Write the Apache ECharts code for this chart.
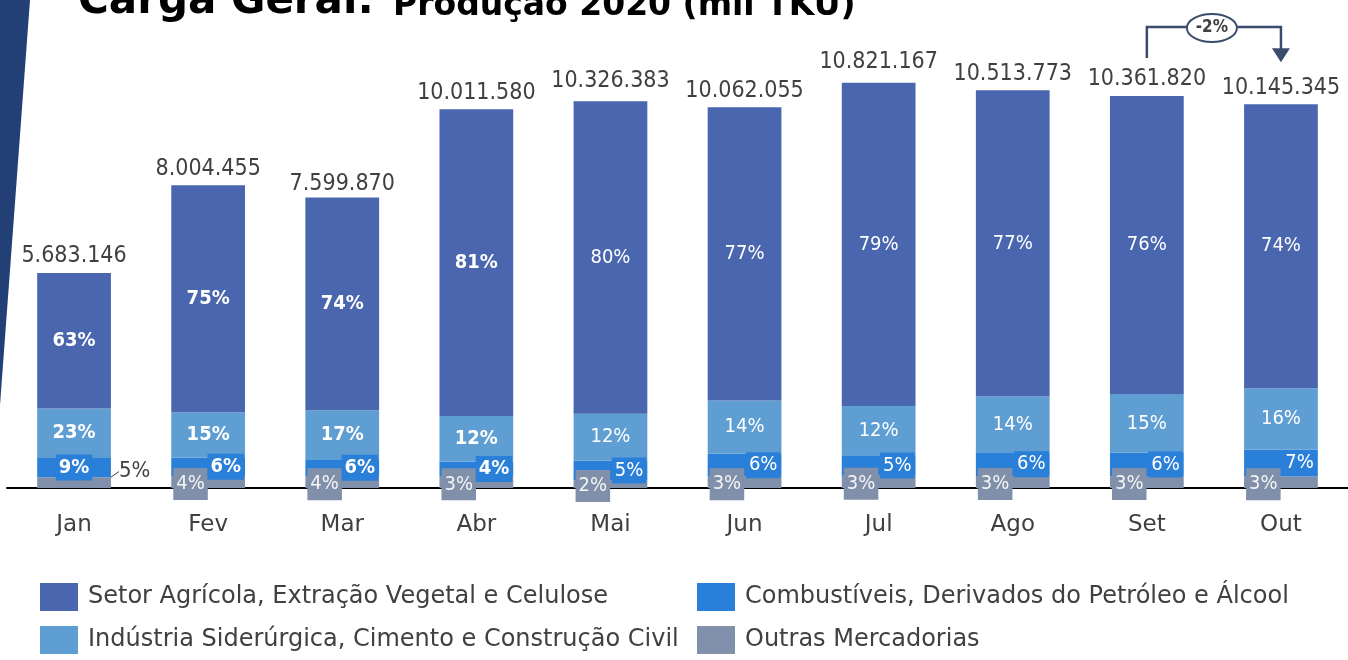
<!DOCTYPE html>
<html>
<head>
<meta charset="utf-8">
<script src="https://cdn.jsdelivr.net/npm/echarts@6/dist/echarts.min.js"></script>
<style>
  html, body { margin: 0; padding: 0; background: #fff; }
  #main { width: 1348px; height: 660px; }
</style>
</head>
<body>
<div id="main"></div>
<script>
// meses
var months = ['Jan', 'Fev', 'Mar', 'Abr', 'Mai', 'Jun', 'Jul', 'Ago', 'Set', 'Out'];
// producao total (mil TKU)
var totals = [5683146, 8004455, 7599870, 10011580, 10326383, 10062055, 10821167, 10513773, 10361820, 10145345];
// participacao de cada grupo (%)
var pctAgricola = [63, 75, 74, 81, 80, 77, 79, 77, 76, 74];
var pctIndustria = [23, 15, 17, 12, 12, 14, 12, 14, 15, 16];
var pctCombust = [9, 6, 6, 4, 5, 6, 5, 6, 6, 7];
var pctOutras = [5, 4, 4, 3, 2, 3, 3, 3, 3, 3];
var variacao = '-2%';

var names = ['Setor Agrícola, Extração Vegetal e Celulose', 'Indústria Siderúrgica, Cimento e Construção Civil',
  'Combustíveis, Derivados do Petróleo e Álcool', 'Outras Mercadorias'];
var cores = ['#4a66ae', '#5f9ed2', '#2a7fd8', '#8190aa'];

var FONT = "'DejaVu Sans Condensed', Roboto, sans-serif";
var FONT_W = "'DejaVu Sans', sans-serif";
var TXT = '#404040';

function fmt(n) {
  return String(n).replace(/\B(?=(\d{3})+(?!\d))/g, '.');
}

// valor de cada segmento = total * participacao
function segment(pct, labelFn) {
  return totals.map(function (t, i) {
    var item = { value: t * pct[i] / 100 };
    if (labelFn) item.label = labelFn(i);
    return item;
  });
}
function pctFormatter(pct) {
  return function (p) { return pct[p.dataIndex] + '%'; };
}
function bold(i) { return { fontWeight: i < 4 ? 'bold' : 'normal' }; }

// uma legenda por item, em 2 colunas
function legendItem(name, left, top) {
  return {
    data: [name], left: left, top: top, orient: 'horizontal', padding: 0,
    itemWidth: 38, itemHeight: 28, icon: 'rect', selectedMode: false,
    textStyle: { color: TXT, fontSize: 24, fontFamily: FONT_W, padding: [0, 0, 0, 5] }
  };
}

var option = {
  animation: false,
  grid: { left: 7, right: -5, top: 34, bottom: 172 },
  xAxis: {
    type: 'category',
    data: months,
    axisTick: { show: false },
    axisLine: { lineStyle: { color: '#000', width: 2 } },
    axisLabel: { color: TXT, fontSize: 23, fontFamily: FONT_W, margin: 26 }
  },
  yAxis: { type: 'value', min: 0, max: 12000000, show: false, splitLine: { show: false } },
  legend: [
    legendItem(names[0], 40, 583),
    legendItem(names[1], 40, 626),
    legendItem(names[2], 697, 583),
    legendItem(names[3], 697, 626)
  ],
  series: [
    {
      name: names[3], type: 'bar', stack: 'a', barWidth: '55%', barGap: '-100%',
      itemStyle: { color: cores[3] },
      data: segment(pctOutras, function (i) {
        if (i === 0) {
          return { position: 'right', offset: [6, -11], color: TXT, backgroundColor: 'transparent', padding: 0, fontSize: 22 };
        }
        return {};
      }),
      label: {
        show: true, position: 'insideLeft', distance: 2, offset: [0, 2],
        formatter: pctFormatter(pctOutras), color: '#f4f4f4', fontSize: 20, fontFamily: FONT,
        backgroundColor: cores[3], padding: [6, 3, 6, 3]
      },
      labelLine: { show: true, lineStyle: { color: TXT, width: 1 } }
    },
    {
      name: names[2], type: 'bar', stack: 'a', barWidth: '55%', barGap: '-100%',
      itemStyle: { color: cores[2] },
      data: segment(pctCombust, function (i) {
        var l = bold(i);
        if (i === 0) l.position = 'inside';
        return l;
      }),
      label: {
        show: true, position: 'insideRight', distance: 1,
        formatter: pctFormatter(pctCombust), color: '#fff', fontSize: 20, fontFamily: FONT,
        backgroundColor: cores[2], padding: [4, 3, 2, 3]
      }
    },
    {
      name: names[1], type: 'bar', stack: 'a', barWidth: '55%', barGap: '-100%',
      itemStyle: { color: cores[1] },
      data: segment(pctIndustria, bold),
      label: {
        show: true, position: 'inside', formatter: pctFormatter(pctIndustria),
        color: '#fff', fontSize: 20, fontFamily: FONT
      }
    },
    {
      name: names[0], type: 'bar', stack: 'a', barWidth: '55%', barGap: '-100%',
      itemStyle: { color: cores[0] },
      data: segment(pctAgricola, bold),
      label: {
        show: true, position: 'inside', formatter: pctFormatter(pctAgricola),
        color: '#fff', fontSize: 20, fontFamily: FONT
      }
    },
    {
      name: 'Total', type: 'bar', barWidth: '55%', barGap: '-100%', z: 1, silent: true,
      data: totals,
      itemStyle: { color: 'transparent' },
      label: {
        show: true, position: 'top', distance: 5, color: TXT, fontSize: 23, fontFamily: FONT,
        formatter: function (p) { return fmt(p.value); }
      }
    }
  ],
  graphic: [
    {
      type: 'polygon', silent: true,
      shape: { points: [[0, 0], [30, 0], [0, 405]] },
      style: { fill: '#223f76' }
    },
    {
      type: 'text', left: 78, top: -19,
      style: { text: 'Carga Geral:', font: "bold 42px 'DejaVu Sans', sans-serif", fill: '#000' }
    },
    {
      type: 'text', left: 393, top: -10,
      style: { text: 'Produção 2020 (mil TKU)', font: "bold 33px 'DejaVu Sans', sans-serif", fill: '#000' }
    }
  ]
};

var chart = echarts.init(document.getElementById('main'));
chart.setOption(option);

// seta de variacao Set -> Out
var xSet = chart.convertToPixel({ xAxisIndex: 0 }, 8);
var xOut = chart.convertToPixel({ xAxisIndex: 0 }, 9);
var ySet = chart.convertToPixel({ yAxisIndex: 0 }, totals[8]);
var yOut = chart.convertToPixel({ yAxisIndex: 0 }, totals[9]);
var yLine = ySet - 69;
var yTip = yOut - 42;
var xMid = (xSet + xOut) / 2 - 2;
var lineCol = '#3a4d6c';
chart.setOption({
  graphic: option.graphic.concat([
    {
      type: 'polyline', silent: true,
      shape: { points: [[xSet, ySet - 38], [xSet, yLine], [xOut, yLine], [xOut, yTip - 13]] },
      style: { stroke: lineCol, lineWidth: 2.5, fill: null }
    },
    {
      type: 'polygon', silent: true,
      shape: { points: [[xOut - 9, yTip - 14], [xOut + 9, yTip - 14], [xOut, yTip]] },
      style: { fill: lineCol }
    },
    {
      type: 'ellipse', silent: true,
      shape: { cx: xMid, cy: yLine + 1, rx: 25, ry: 14 },
      style: { fill: '#fff', stroke: lineCol, lineWidth: 2 }
    },
    {
      type: 'text', silent: true, x: xMid, y: yLine + 1,
      style: { text: variacao, font: "bold 17px " + FONT, fill: TXT, align: 'center', verticalAlign: 'middle' }
    }
  ])
});
</script>
</body>
</html>
